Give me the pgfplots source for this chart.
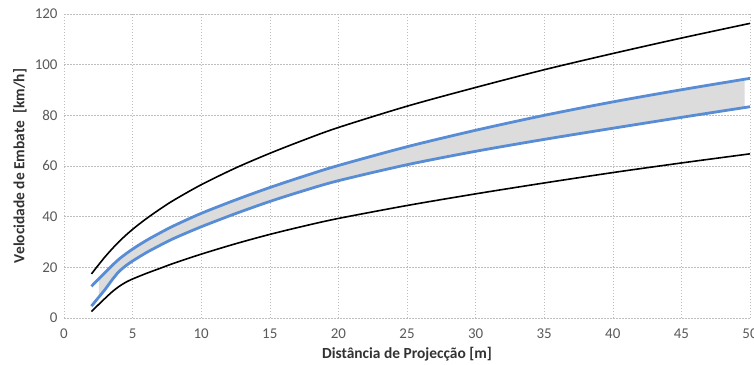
\documentclass[border=0pt]{standalone}
\usepackage{fontspec}
\setmainfont{Carlito}
\usepackage{pgfplots}
\pgfplotsset{compat=1.18}
\usepgfplotslibrary{fillbetween}
\definecolor{bl}{RGB}{88,141,213}
\definecolor{tk}{RGB}{89,89,89}
\definecolor{lb}{RGB}{50,50,50}
\definecolor{gr}{RGB}{190,190,190}
\definecolor{fl}{RGB}{220,220,220}
\begin{document}
\begin{tikzpicture}
\begin{axis}[
  at={(0,0)}, anchor=south west,
  scale only axis, width=686bp, height=304bp,
  xmin=0, xmax=50, ymin=0, ymax=120,
  xtick={0,5,...,50}, ytick={0,20,...,120},
  axis line style={draw=none},
  major tick length=0pt,
  grid=major,
  major grid style={draw=gr, line width=0.6bp, dash pattern=on 1.5bp off 1.5bp},
  tick label style={font=\fontsize{15}{17}\selectfont, text=tk},
  /pgf/number format/assume math mode=true,
  xticklabel style={yshift=-7bp},
  yticklabel style={xshift=-3bp},
  xlabel={\textbf{Distância de Projecção [m]}},
  ylabel={\textbf{Velocidade de Embate\ \ [km/h]}},
  label style={font=\fontsize{15.5}{17}\selectfont, text=lb},
  xlabel style={at={(rel axis cs:0.5,-0.118)}, anchor=center},
  ylabel style={at={(rel axis cs:-0.0645,0.5)}, anchor=center},
  clip=false,
]
\addplot[draw=none, smooth, name path=ub] coordinates {
(2,12.5)(3,18)(4,23.2)(5,27.2)(6,30.6)(7,33.6)(8,36.4)(10,41.3)(12.5,46.6)(15,51.5)(17.5,56)(20,60.2)(25,67.6)(30,74.1)(35,80)(40,85.3)(45,90.1)(50,94.6)};
\addplot[draw=none, smooth, name path=lb] coordinates {
(2,4.7)(2.5,8)(3,11.3)(3.5,15)(4,18.3)(4.5,20.6)(5,22.5)(6,25.8)(7,28.7)(8,31.4)(10,36)(12.5,41.2)(15,46)(17.5,50.3)(20,54.2)(25,60.5)(30,65.8)(35,70.5)(40,74.9)(45,79.2)(50,83.4)};
\addplot[fl] fill between[of=ub and lb, soft clip={domain=2.55:49.6}];
% upper black
\addplot[black, line width=1.6bp, smooth] coordinates {
(2,17.4)(3,24.2)(4,30.1)(5,35)(6,39.2)(7,43)(8,46.5)(10,52.6)(12.5,59.2)(15,65)(17.5,70.3)(20,75.2)(25,83.6)(30,91)(35,98)(40,104.4)(45,110.5)(50,116.3)};
% upper blue
\addplot[bl, line width=2.8bp, smooth] coordinates {
(2,12.5)(3,18)(4,23.2)(5,27.2)(6,30.6)(7,33.6)(8,36.4)(10,41.3)(12.5,46.6)(15,51.5)(17.5,56)(20,60.2)(25,67.6)(30,74.1)(35,80)(40,85.3)(45,90.1)(50,94.6)};
% lower blue
\addplot[bl, line width=2.8bp, smooth] coordinates {
(2,4.7)(2.5,8)(3,11.3)(3.5,15)(4,18.3)(4.5,20.6)(5,22.5)(6,25.8)(7,28.7)(8,31.4)(10,36)(12.5,41.2)(15,46)(17.5,50.3)(20,54.2)(25,60.5)(30,65.8)(35,70.5)(40,74.9)(45,79.2)(50,83.4)};
% lower black
\addplot[black, line width=1.6bp, smooth] coordinates {
(2,2.5)(2.5,5.2)(3,7.8)(3.5,10.3)(4,12.4)(4.5,14.1)(5,15.4)(6,17.6)(7,19.6)(8,21.6)(10,25.2)(12.5,29.3)(15,33)(17.5,36.3)(20,39.3)(25,44.4)(30,49)(35,53.3)(40,57.4)(45,61.2)(50,64.8)};
\end{axis}
\pgfresetboundingbox
\useasboundingbox (-64bp,-47bp) rectangle (690bp,318bp);
\end{tikzpicture}
\end{document}
